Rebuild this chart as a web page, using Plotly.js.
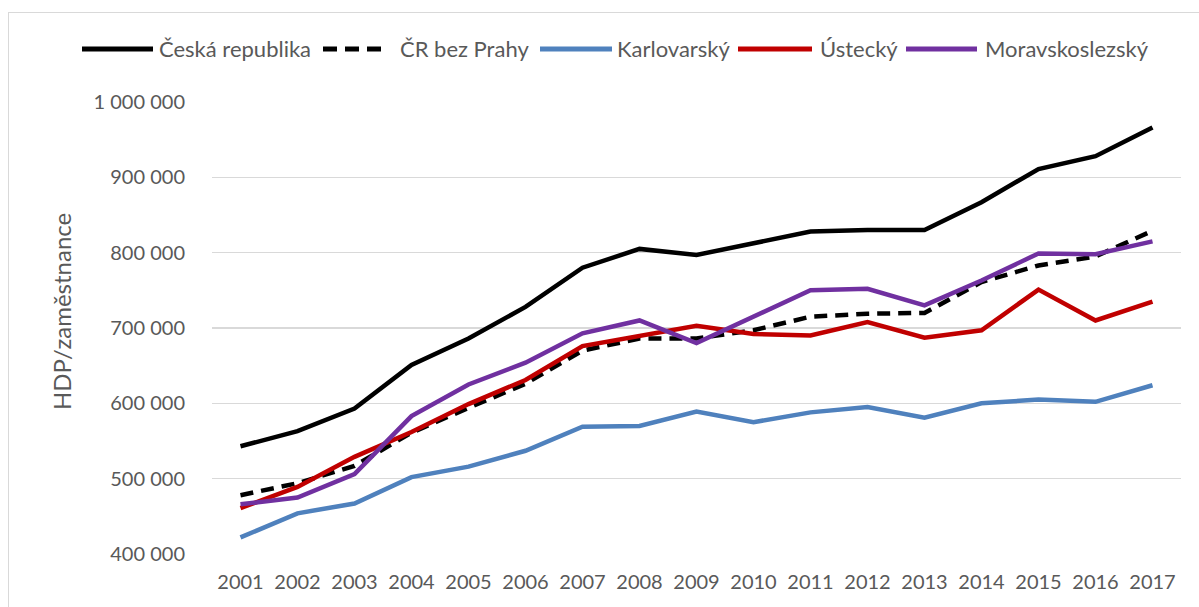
<!DOCTYPE html>
<html>
<head>
<meta charset="utf-8">
<script src="https://cdn.plot.ly/plotly-3.0.1.min.js"></script>
<style>
  html, body { margin: 0; padding: 0; background: #ffffff; }
  #wrap { position: relative; width: 1199px; height: 607px; overflow: hidden; }
  #chart { position: absolute; left: 0; top: 0; width: 1199px; height: 607px; }
  #frame { position: absolute; left: 8px; top: 12px; width: 1210px; height: 620px;
           border: 1.5px solid #d9d9d9; pointer-events: none; box-sizing: border-box; }
</style>
</head>
<body>
<div id="wrap">
  <div id="chart"></div>
  <div id="frame"></div>
</div>
<script>
// ---- data ----
const years = ["2001","2002","2003","2004","2005","2006","2007","2008","2009",
               "2010","2011","2012","2013","2014","2015","2016","2017"];
const ceskaRepublika = [543000, 563000, 593000, 651000, 686000, 728000, 780000, 805000, 797000,
                        812000, 828000, 830000, 830000, 867000, 911000, 928000, 966000];
const crBezPrahy     = [478000, 494000, 517000, 561000, 594000, 626000, 670000, 686000, 686000,
                        697000, 715000, 719000, 720000, 761000, 783000, 795000, 829000];
const karlovarsky    = [422000, 454000, 467000, 502000, 516000, 537000, 569000, 570000, 589000,
                        575000, 588000, 595000, 581000, 600000, 605000, 602000, 624000];
const ustecky        = [461000, 489000, 529000, 562000, 599000, 631000, 676000, 689000, 703000,
                        692000, 690000, 708000, 687000, 697000, 751000, 710000, 735000];
const moravskoslezsky= [466000, 475000, 506000, 583000, 625000, 654000, 693000, 710000, 680000,
                        715000, 750000, 752000, 730000, 763000, 799000, 798000, 815000];
const seriesNames = ["Česká republika", "ČR bez Prahy", "Karlovarský", "Ústecký", "Moravskoslezský"];
const yTitle = "HDP/zaměstnance";

// ---- styles ----
const seriesValues = [ceskaRepublika, crBezPrahy, karlovarsky, ustecky, moravskoslezsky];
const colors = ["#000000", "#000000", "#4f81bd", "#c00000", "#7030a0"];
const dashes = ["solid", "13px,8px", "solid", "solid", "solid"];
const lineW = 4.5;
const textColor = "#595959";
const fontFam = "Lato, 'Open Sans', sans-serif";

// plot area in pixels
const W = 1199, H = 607;
const plotL = 212, plotR = 1181, plotT = 102, plotB = 554;
const pw = plotR - plotL, ph = plotB - plotT;
const px2x = p => (p - plotL) / pw;
const py2y = p => (plotB - p) / ph;

// legend item positions (pixels): sample start, sample end, text start
const legendPos = [[82,153,157],[323,388,398],[540,612,615],[738,812,818],[906,977,983]];
const legendY = 49;

const traces = seriesNames.map((name, i) => ({
  type: "scatter", mode: "lines", name: name,
  x: years, y: seriesValues[i],
  line: { color: colors[i], width: lineW, dash: dashes[i] },
  showlegend: false,
  hoverinfo: "x+y+name"
}));

const shapes = [];
const annotations = [];
seriesNames.forEach((name, i) => {
  const [s0, s1, t0] = legendPos[i];
  shapes.push({
    type: "line", xref: "paper", yref: "paper",
    x0: px2x(s0), x1: px2x(s1), y0: py2y(legendY), y1: py2y(legendY),
    line: { color: colors[i], width: 5, dash: i === 1 ? "14px,8px" : "solid" }
  });
  annotations.push({
    xref: "paper", yref: "paper", x: px2x(t0), y: py2y(legendY),
    xanchor: "left", yanchor: "middle", showarrow: false,
    text: name, font: { family: fontFam, size: 22, color: textColor }
  });
});
annotations.push({
  xref: "paper", yref: "paper", x: px2x(61), y: py2y(312),
  xanchor: "center", yanchor: "middle", showarrow: false, textangle: -90,
  text: yTitle, font: { family: fontFam, size: 24, color: textColor }
});

const layout = {
  width: W, height: H,
  margin: { l: plotL, r: W - plotR, t: plotT, b: H - plotB, pad: 0 },
  paper_bgcolor: "#ffffff", plot_bgcolor: "#ffffff",
  separators: ", ",
  font: { family: fontFam, size: 20, color: textColor },
  showlegend: false,
  xaxis: {
    type: "category", range: [-0.5, 16.5],
    showgrid: false, zeroline: false, showline: false, ticks: "",
    ticklabelstandoff: 14,
    tickfont: { family: fontFam, size: 20, color: textColor },
    fixedrange: true
  },
  yaxis: {
    range: [400000, 1000000], dtick: 100000, tick0: 0,
    tickformat: ",d",
    showgrid: true, gridcolor: "#d9d9d9", gridwidth: 1.5,
    zeroline: false, showline: false, ticks: "",
    ticklabelstandoff: 26,
    tickfont: { family: fontFam, size: 20, color: textColor },
    fixedrange: true
  },
  shapes: shapes,
  annotations: annotations
};

Plotly.newPlot("chart", traces, layout, { displayModeBar: false, staticPlot: true });
</script>
</body>
</html>
